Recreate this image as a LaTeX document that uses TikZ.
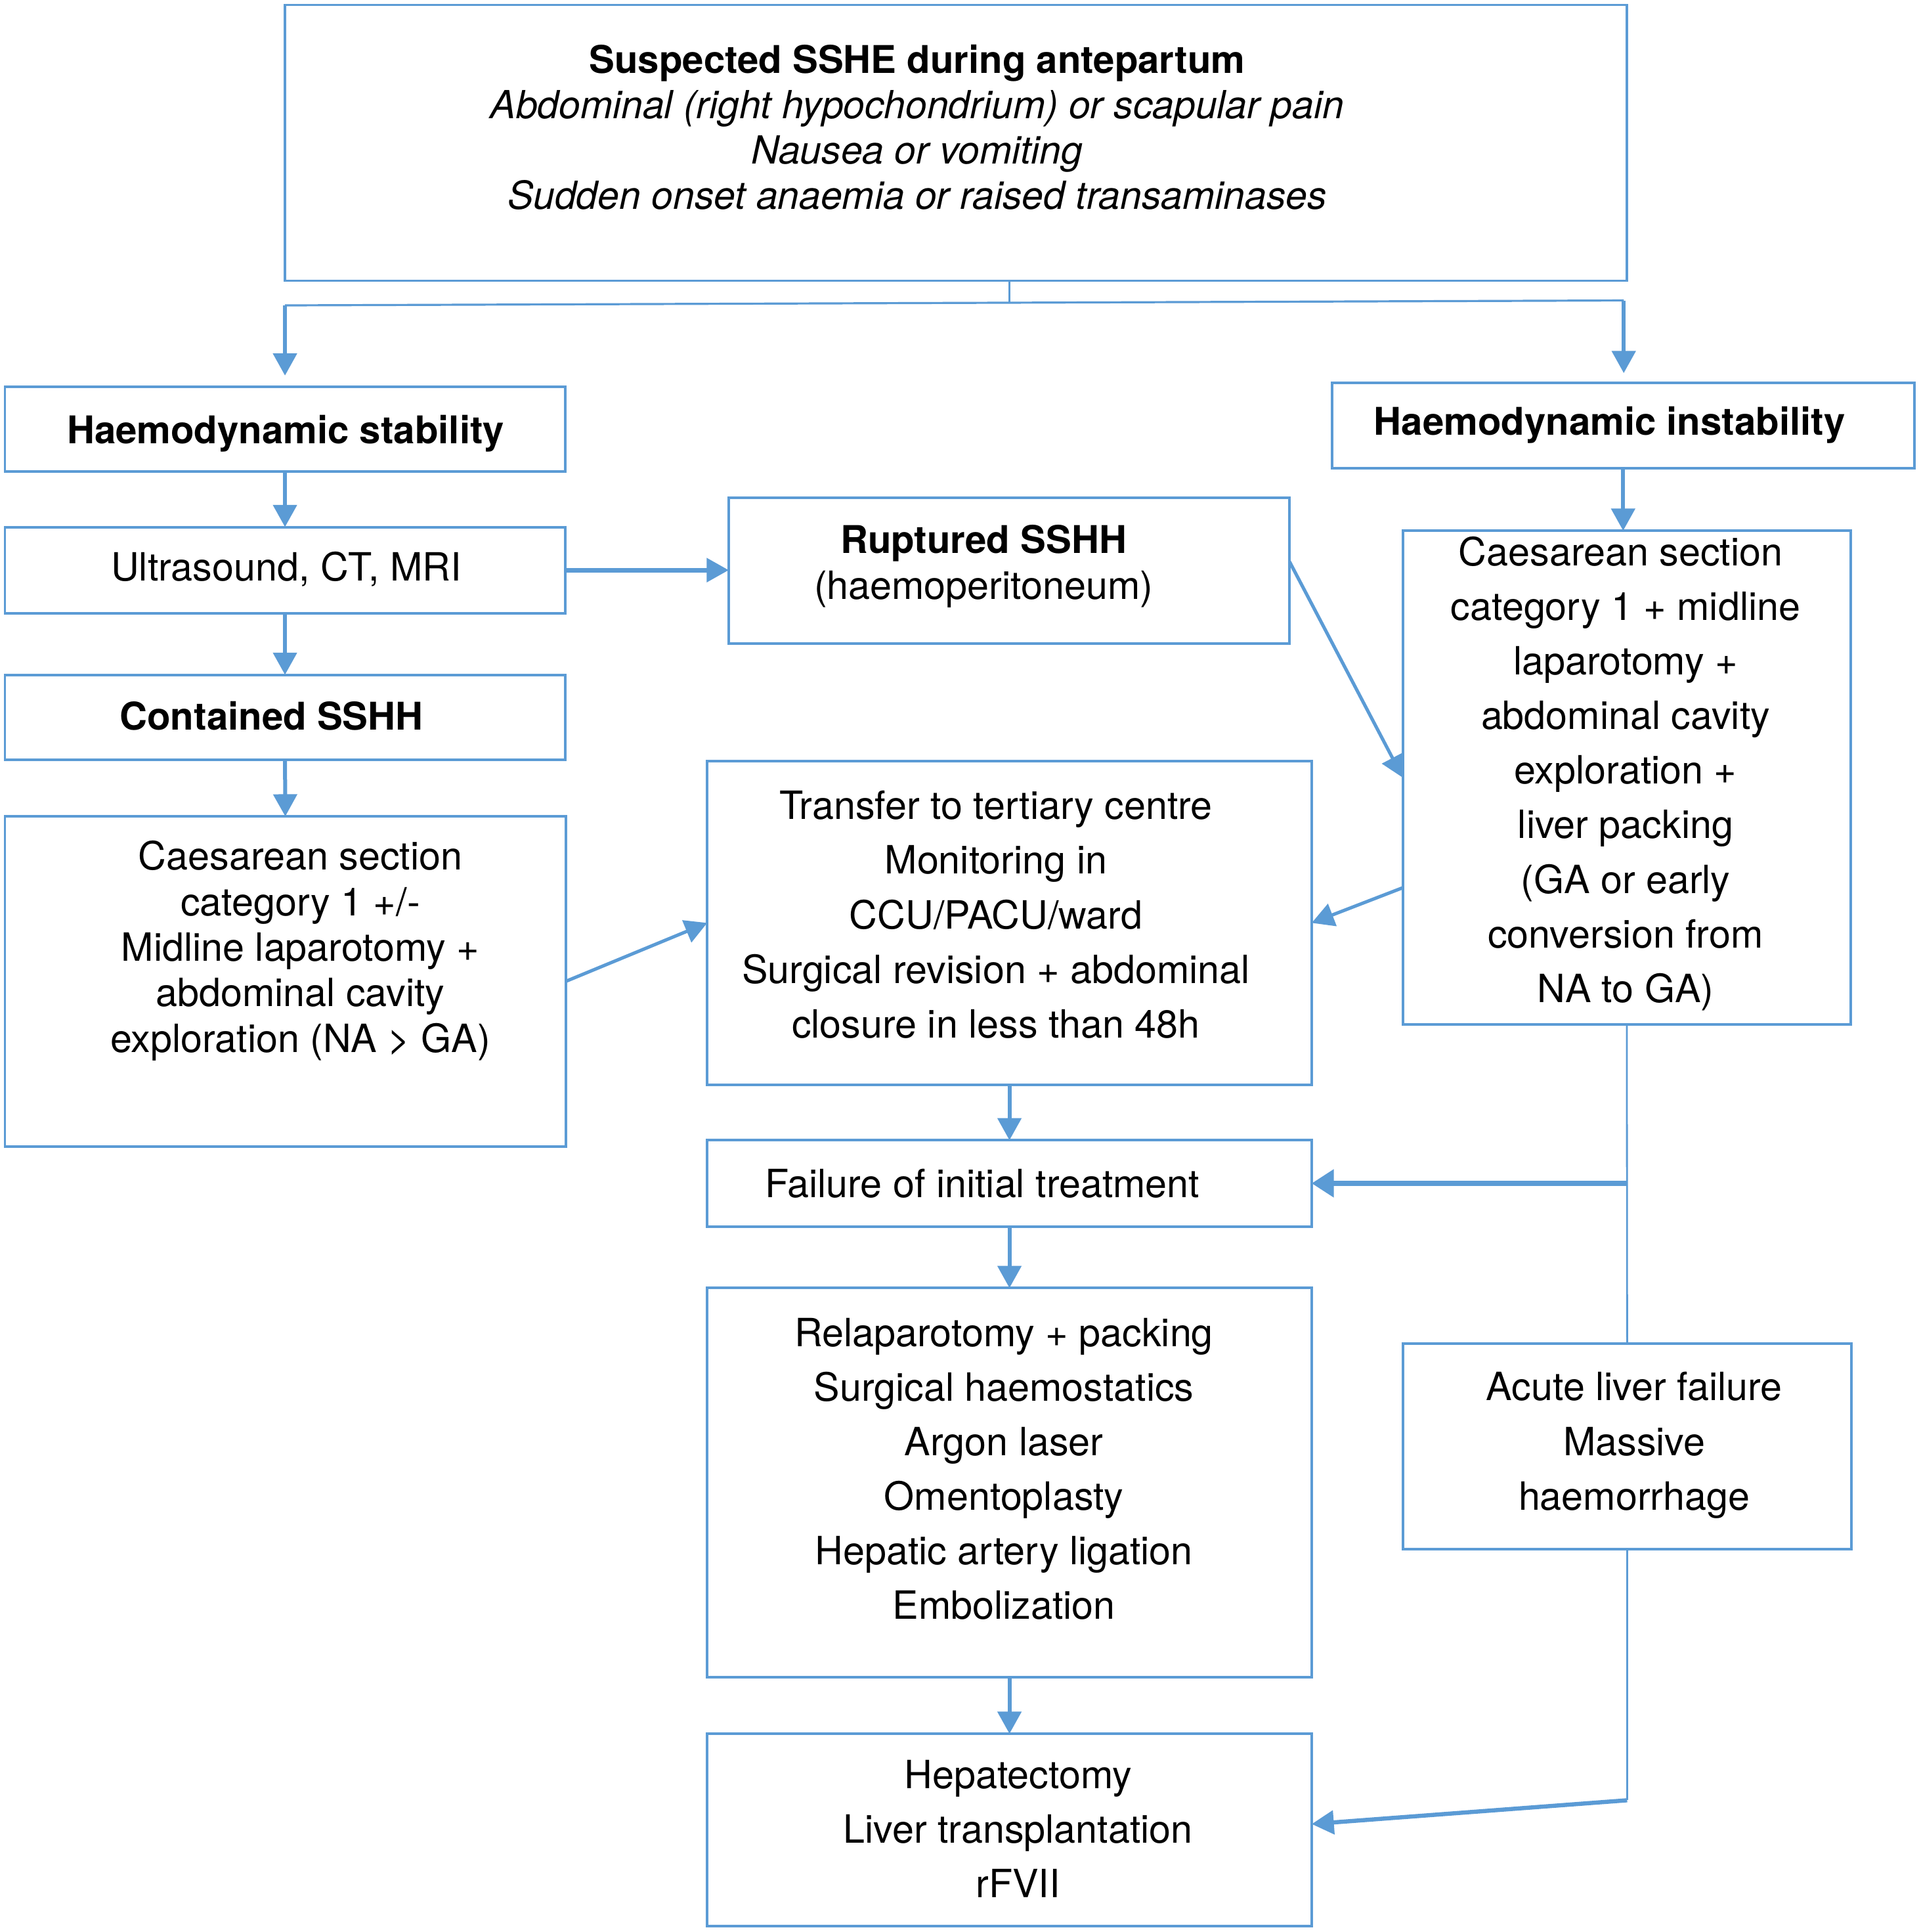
\documentclass[tikz,border=0pt]{standalone}
\usepackage{fontspec}
\setmainfont{TeX Gyre Heros}
\usetikzlibrary{arrows.meta,calc}
\definecolor{lblue}{HTML}{5B9BD5}
\newcommand{\bfx}[1]{{\fontsize{31}{37}\selectfont\bfseries #1}}
\newcommand{\itx}[1]{{\fontsize{31.4}{37}\selectfont\itshape #1}}
\begin{document}
\begin{tikzpicture}[x=1pt,y=-1pt,
  box/.style={draw=lblue, line width=2.1pt, inner sep=0pt, outer sep=0pt, rectangle},
  txt/.style={inner sep=0pt, outer sep=0pt, anchor=north, align=center, text=black, font=\fontsize{31.6}{44.3}\selectfont},
  txtb/.style={txt, font=\fontsize{31}{44.3}\selectfont\bfseries},
  txts/.style={txt, font=\fontsize{31.6}{37}\selectfont},
  txtt/.style={txt, font=\fontsize{31}{36.7}\selectfont},
  arr/.style={draw=lblue, line width=3.2pt, -{Triangle[length=18pt,width=19pt]}},
  thinl/.style={draw=lblue, line width=1.5pt},
]
\useasboundingbox (0,0) rectangle (1560,1569);
\fill[white] (0,0) rectangle (1560,1569);

% boxes
\node[box, minimum width=1090pt, minimum height=224pt] (top) at (776.5,116) {};
\node[box, minimum width=455pt, minimum height=69pt] (stab) at (231.5,348.5) {};
\node[box, minimum width=473pt, minimum height=69pt] (instab) at (1318.5,345.5) {};
\node[box, minimum width=455pt, minimum height=70pt] (ultra) at (231.5,463) {};
\node[box, minimum width=455.5pt, minimum height=118.5pt] (rupt) at (819.75,463.25) {};
\node[box, minimum width=455pt, minimum height=69pt] (cont) at (231.5,582.5) {};
\node[box, minimum width=455.5pt, minimum height=268pt] (caesL) at (231.75,797) {};
\node[box, minimum width=491pt, minimum height=263pt] (trans) at (820,749.5) {};
\node[box, minimum width=364pt, minimum height=401pt] (caesR) at (1321.5,631.5) {};
\node[box, minimum width=491pt, minimum height=70pt] (fail) at (820,961) {};
\node[box, minimum width=491pt, minimum height=316pt] (relap) at (820,1204) {};
\node[box, minimum width=364.5pt, minimum height=167pt] (acute) at (1321.75,1174.5) {};
\node[box, minimum width=491pt, minimum height=156pt] (hepat) at (820,1486) {};

% texts
\node[txtt] (ttop) at (745,33.8) {\strut\bfx{Suspected SSHE during antepartum}\\
  \strut\itx{Abdominal (right hypochondrium) or scapular pain}\\
  \strut\itx{Nausea or vomiting}\\
  \strut\itx{Sudden onset anaemia or raised transaminases}};
\node[txtb] (tstab) at (232,329.5) {\strut Haemodynamic stability};
\node[txtb] (tinstab) at (1307.5,322.5) {\strut Haemodynamic instability};
\node[txt] (tultra) at (232.5,440.5) {\strut Ultrasound, CT, MRI};
\node[txts] (trupt) at (799,423.6) {\strut\bfx{Ruptured SSHH}\\ \strut(haemoperitoneum)};
\node[txtb] (tcont) at (220.5,561.5) {\strut Contained SSHH};
\node[txts] (tcaesL) at (244,680.6) {\strut Caesarean section\\ \strut category 1 +/-\\
  \strut Midline laparotomy +\\ \strut abdominal cavity\\ \strut exploration (NA \textgreater{} GA)};
\node[txt] (ttrans) at (809,634.5) {\strut Transfer to tertiary centre\\ \strut Monitoring in\\
  \strut CCU/PACU/ward\\ \strut Surgical revision + abdominal\\ \strut closure in less than 48h};
\node[txt] (tcaesR) at (1320.5,428.5) {\strut Caesarean section\hspace*{8pt}\\
  \strut category 1 + midline\hspace*{8pt}\\ \strut laparotomy +\hspace*{8pt}\\
  \strut abdominal cavity\\ \strut exploration +\\ \strut liver packing\\
  \strut (GA or early\\ \strut conversion from\\ \strut NA to GA)};
\node[txt] (tfail) at (798,941.5) {\strut Failure of initial treatment};
\node[txt] (trelap) at (815.5,1062.5) {\strut Relaparotomy + packing\\ \strut Surgical haemostatics\\
  \strut Argon laser\\ \strut Omentoplasty\\ \strut Hepatic artery ligation\\ \strut Embolization};
\node[txt] (tacute) at (1327.5,1106.5) {\strut Acute liver failure\\ \strut Massive\\ \strut haemorrhage};
\node[txt] (thepat) at (827,1421.5) {\strut Hepatectomy\\ \strut Liver transplantation\\ \strut rFVII};

% connectors
\coordinate (jm) at (820,246);
\coordinate (jl) at (231.5,248);
\coordinate (jr) at (1319,244);
\draw[thinl] (top.south -| jm) -- (jm);
\draw[thinl, line width=1.7pt] (jl) -- (jr);
\draw[arr] (jl) -- ([yshift=9pt]stab.north -| jl);
\draw[arr] (jr) -- ([yshift=8pt]instab.north -| jr);
\draw[arr] (stab.south) -- (ultra.north);
\draw[arr] (ultra.south) -- (cont.north);
\draw[arr] (cont.south) -- (caesL.north);
\draw[arr, line width=3.6pt] (ultra.east) -- (rupt.west |- ultra.east);
\draw[arr] (instab.south) -- (caesR.north -| instab.south);
\draw[arr, line width=2.7pt] ($(rupt.north east)!0.44!(rupt.south east)$) -- (caesR.west);
\draw[arr, line width=2.7pt] (caesL.east) -- (trans.west);
\draw[arr, line width=2.7pt] ($(caesR.north west)!0.723!(caesR.south west)$) -- (trans.east);
\draw[arr] (trans.south) -- (fail.north);
\draw[thinl] (caesR.south) -- (acute.north);
\draw[arr, line width=4pt, -{Triangle[length=18pt,width=22pt]}] (caesR.south |- fail.east) -- (fail.east);
\draw[arr] (fail.south) -- (relap.north);
\draw[arr] (relap.south) -- (hepat.north);
\coordinate (ja) at (1321.75,1462);
\draw[thinl, line width=1.8pt] (acute.south) -- (ja);
\draw[arr, line width=3.4pt] (ja) -- ($(hepat.north east)!0.47!(hepat.south east)$);
\end{tikzpicture}
\end{document}
